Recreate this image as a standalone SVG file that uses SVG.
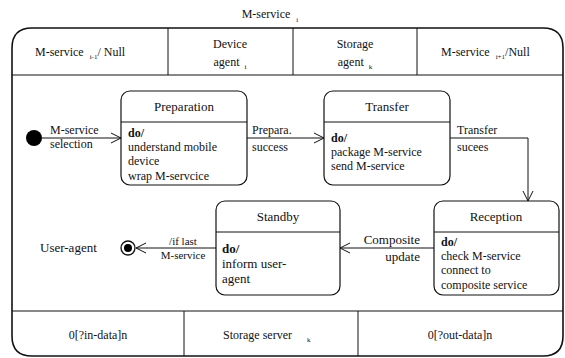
<svg xmlns="http://www.w3.org/2000/svg" width="565" height="358" viewBox="0 0 565 358">
<style>
text{font-family:"Liberation Serif","Times New Roman",serif;font-size:12px;fill:#111}
.t{font-size:13px}
.s{font-size:7px}
.sm{font-size:11px}
.b{font-weight:bold}
.m{text-anchor:middle}
.e{text-anchor:end}
.n{fill:#fff;stroke:#111;stroke-width:1.2}
.l{stroke:#111;stroke-width:1;fill:none}
.f{fill:none;stroke:#111;stroke-width:1.6}
</style>
<defs>
<marker id="a" markerWidth="12" markerHeight="12" refX="11" refY="6" orient="auto" markerUnits="userSpaceOnUse">
<path d="M1,1 L11,6 L1,11" fill="none" stroke="#111" stroke-width="1"/>
</marker>
</defs>
<g id="frame">
<text x="270" y="18" class="m">M-service <tspan class="s" dx="3" dy="4">i</tspan></text>
<path class="f" d="M32,28 H543 Q563,28 563,48 V336 Q563,356 543,356 H32 Q12,356 12,336 V48 Q12,28 32,28 Z"/>
<line class="l" x1="12" y1="75" x2="563" y2="75"/>
<line class="l" x1="168" y1="28" x2="168" y2="75"/>
<line class="l" x1="293" y1="28" x2="293" y2="75"/>
<line class="l" x1="417" y1="28" x2="417" y2="75"/>
<text x="35" y="56">M-service <tspan class="s" dx="3" dy="3">i-1</tspan><tspan dy="-3">/ Null</tspan></text>
<text x="230" y="48" class="m">Device</text>
<text x="230" y="66" class="m">agent <tspan class="s" dx="2" dy="3">i</tspan></text>
<text x="355" y="48" class="m">Storage</text>
<text x="355" y="66" class="m">agent <tspan class="s" dx="2" dy="3">k</tspan></text>
<text x="441" y="56">M-service <tspan class="s" dx="3" dy="3">i+1</tspan><tspan dy="-3">/Null</tspan></text>
<line class="l" x1="12" y1="311" x2="563" y2="311"/>
<line class="l" x1="184" y1="311" x2="184" y2="356"/>
<line class="l" x1="358" y1="311" x2="358" y2="356"/>
<text x="98" y="339" class="m">0[?in-data]n</text>
<text x="223" y="339">Storage server <tspan class="s" dx="12" dy="3">k</tspan></text>
<text x="460" y="339" class="m">0[?out-data]n</text>
<text x="40" y="252" class="t">User-agent</text>
</g>
<g id="initial"><circle cx="34" cy="138" r="8" fill="#000"/></g>
<g id="final"><circle cx="128" cy="248" r="7" fill="#fff" stroke="#111" stroke-width="1.3"/><circle cx="128" cy="248" r="4" fill="#000"/></g>
<g id="preparation">
<rect class="n" x="121" y="91" width="126" height="94" rx="9"/>
<line class="l" x1="121" y1="122" x2="247" y2="122"/>
<text x="184" y="111" class="m t">Preparation</text>
<text x="128" y="137" class="b">do/</text>
<text x="128" y="151">understand mobile</text>
<text x="128" y="165">device</text>
<text x="128" y="180">wrap M-servcice</text>
</g>
<g id="transfer">
<rect class="n" x="324" y="91" width="126" height="94" rx="9"/>
<line class="l" x1="324" y1="122" x2="450" y2="122"/>
<text x="387" y="111" class="m t">Transfer</text>
<text x="331" y="142" class="b">do/</text>
<text x="331" y="156">package M-service</text>
<text x="331" y="170">send M-service</text>
</g>
<g id="reception">
<rect class="n" x="434" y="201" width="125" height="94" rx="9"/>
<line class="l" x1="434" y1="232" x2="559" y2="232"/>
<text x="496" y="221" class="m t">Reception</text>
<text x="441" y="246" class="b">do/</text>
<text x="441" y="260">check M-service</text>
<text x="441" y="274">connect to</text>
<text x="441" y="289">composite service</text>
</g>
<g id="standby">
<rect class="n" x="216" y="201" width="124" height="94" rx="9"/>
<line class="l" x1="216" y1="232" x2="340" y2="232"/>
<text x="278" y="221" class="m t">Standby</text>
<text x="222" y="253" class="b t">do/</text>
<text x="222" y="268" class="t">inform user-</text>
<text x="222" y="283" class="t">agent</text>
</g>
<g id="connectors">
<line class="l" x1="42" y1="138" x2="121" y2="138" marker-end="url(#a)"/>
<text x="50" y="134">M-service</text>
<text x="50" y="148">selection</text>
<line class="l" x1="247" y1="138" x2="324" y2="138" marker-end="url(#a)"/>
<text x="252" y="134">Prepara.</text>
<text x="252" y="151">success</text>
<polyline class="l" points="450,138 528,138 528,201" marker-end="url(#a)"/>
<text x="457" y="134">Transfer</text>
<text x="457" y="151">sucees</text>
<line class="l" x1="434" y1="248" x2="340" y2="248" marker-end="url(#a)"/>
<text x="420" y="244" class="e t">Composite</text>
<text x="420" y="261" class="e t">update</text>
<line class="l" x1="216" y1="248" x2="136" y2="248" marker-end="url(#a)"/>
<text x="183" y="245" class="m sm">/if last</text>
<text x="183" y="259" class="m sm">M-service</text>
</g>
</svg>
